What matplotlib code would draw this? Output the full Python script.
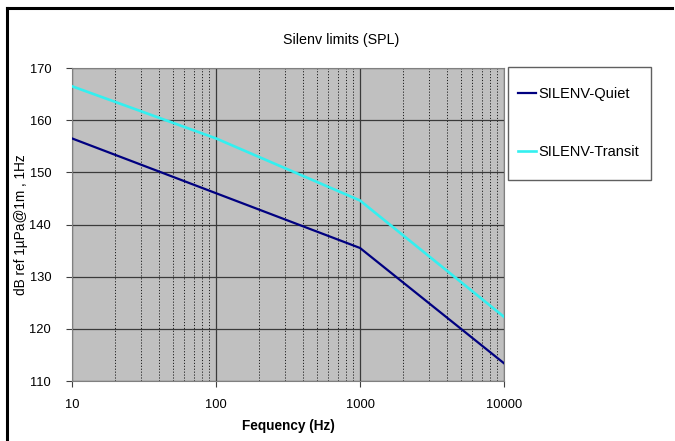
import numpy as np
import matplotlib
matplotlib.use("Agg")
import matplotlib.pyplot as plt
from matplotlib.lines import Line2D
from matplotlib.patches import Rectangle
from matplotlib.ticker import FixedLocator, FixedFormatter, LogLocator, NullFormatter

plt.rcParams['font.family'] = ['Liberation Sans', 'DejaVu Sans']

# data
freq = [10, 100, 1000, 10000]
quiet = [156.5, 146.0, 135.5, 113.4]
transit = [166.5, 156.5, 144.6, 122.3]

x_ticks = [10, 100, 1000, 10000]
x_labels = ['10', '100', '1000', '10000']
y_ticks = [110, 120, 130, 140, 150, 160, 170]

W, H = 675, 441
fig = plt.figure(figsize=(W / 100, H / 100), dpi=100)
ax = fig.add_axes([0.1067, 0.136, 0.64, 0.7098])
ax.set_facecolor('#C0C0C0')

ax.plot(freq, quiet, color='#000080', lw=1.6, label='SILENV-Quiet', zorder=3)
ax.plot(freq, transit, color='#33F0F0', lw=1.9, label='SILENV-Transit', zorder=3)

ax.set_xscale('log')
ax.set_xlim(10, 10000)
ax.set_ylim(110, 170)
ax.xaxis.set_major_locator(FixedLocator(x_ticks))
ax.xaxis.set_major_formatter(FixedFormatter(x_labels))
ax.xaxis.set_minor_locator(LogLocator(base=10, subs=np.arange(2, 10)))
ax.xaxis.set_minor_formatter(NullFormatter())
ax.set_yticks(y_ticks)

ax.grid(True, which='major', axis='both', color='#3a3a3a', lw=0.9, ls='-', zorder=1)
ax.grid(True, which='minor', axis='x', color='#202020', lw=0.7, ls=(0, (1.2, 1.8)), zorder=1)
ax.set_axisbelow(True)

ax.tick_params(axis='both', which='major', direction='out', length=4, width=0.8,
               labelsize=9.3, color='#404040')
ax.tick_params(axis='y', which='major', pad=11)
ax.tick_params(axis='x', which='minor', length=0)
ax.tick_params(axis='x', which='major', pad=9)
for s in ax.spines.values():
    s.set_color('#808080')
    s.set_linewidth(0.8)

# Excel centres the title on the whole chart, not the plot area
fig.text(341 / W, 1 - 40 / H, 'Silenv limits (SPL)', fontsize=10.3,
         ha='center', va='center')
ax.set_xlabel('Fequency (Hz)', fontsize=9.8, fontweight='bold', labelpad=6)
ax.set_ylabel('dB ref 1\u00b5Pa@1m , 1Hz', fontsize=9.8)
ax.yaxis.set_label_coords(-0.102, 0.5)

# legend box drawn separately so the entries can sit where Excel puts them
fig.add_artist(Rectangle((508 / W, 1 - 180 / H), 143 / W, 113 / H,
                         transform=fig.transFigure, facecolor='white',
                         edgecolor='#606060', lw=1.0))
leg = fig.legend(loc='upper left', bbox_to_anchor=(518 / W, 1 - 87 / H),
                 fontsize=10.5, frameon=False, handlelength=1.23,
                 handletextpad=0.15, labelspacing=3.0, borderpad=0,
                 borderaxespad=0)

# outer chart frame (only top and left edges visible in the crop)
fig.add_artist(Line2D([7 / W, 672 / W], [1 - 8 / H, 1 - 8 / H],
                      transform=fig.transFigure, color='black', lw=2.2))
fig.add_artist(Line2D([7 / W, 7 / W], [0, 1 - 8 / H],
                      transform=fig.transFigure, color='black', lw=2.2))

fig.savefig('out.png', dpi=100)
